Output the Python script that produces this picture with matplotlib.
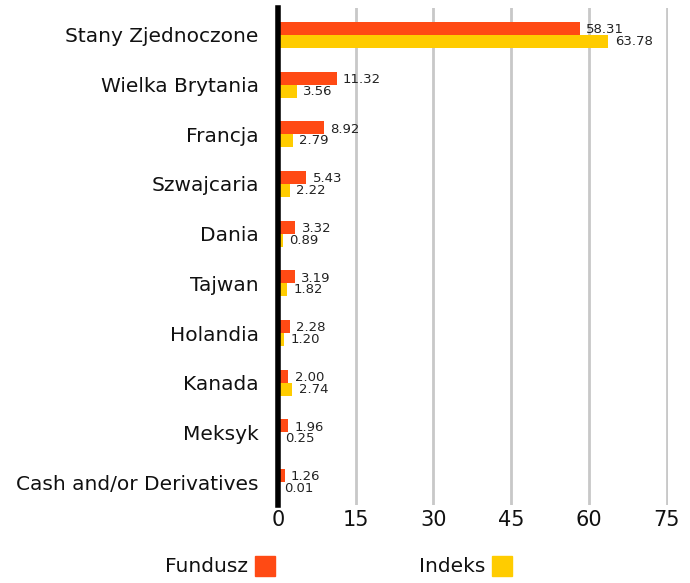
import matplotlib
matplotlib.use('Agg')
import matplotlib.pyplot as plt
from matplotlib.patches import Rectangle
import numpy as np

plt.rcParams['font.family'] = ['DejaVu Sans']

countries = ['Stany Zjednoczone', 'Wielka Brytania', 'Francja', 'Szwajcaria', 'Dania',
             'Tajwan', 'Holandia', 'Kanada', 'Meksyk', 'Cash and/or Derivatives']
fund = [58.31, 11.32, 8.92, 5.43, 3.32, 3.19, 2.28, 2.00, 1.96, 1.26]
index = [63.78, 3.56, 2.79, 2.22, 0.89, 1.82, 1.20, 2.74, 0.25, 0.01]
ticks = [0, 15, 30, 45, 60, 75]

orange = '#ff4a14'
yellow = '#ffcc00'

fig = plt.figure(figsize=(6.9, 5.83), dpi=100)
ax = fig.add_axes([0.403, 0.134, 0.5646, 0.852])

y = np.arange(len(countries))
h = 0.26
ax.barh(y - h/2, fund, height=h, color=orange, zorder=3)
ax.barh(y + h/2, index, height=h, color=yellow, zorder=3)

# value labels
for i in range(len(countries)):
    ax.annotate('%.2f' % fund[i], (fund[i], y[i] - h/2), xytext=(4.5, -1), textcoords='offset points',
                va='center', ha='left', fontsize=9.5, color='#222222')
    ax.annotate('%.2f' % index[i], (index[i], y[i] + h/2), xytext=(4.5, 0), textcoords='offset points',
                va='center', ha='left', fontsize=9.5, color='#222222')

ax.set_ylim(len(countries) - 0.54, -0.54)
ax.set_xlim(0, 75.2)
ax.set_yticks(y)
ax.set_yticklabels(countries, fontsize=14.5, color='#111111')
ax.set_xticks(ticks)
ax.set_xticklabels([str(t) for t in ticks], fontsize=15, color='#111111')
ax.tick_params(length=0, pad=4)
ax.tick_params(axis='y', pad=14)

for t in ticks[1:]:
    ax.axvline(t, color='#c8c8c8', linewidth=2, zorder=1)
for s in ['top', 'right', 'bottom']:
    ax.spines[s].set_visible(False)
ax.spines['left'].set_linewidth(4)
ax.spines['left'].set_color('black')
ax.spines['left'].set_zorder(4)

# legend
fig.text(248/690, 1 - 567/583, 'Fundusz', ha='right', va='center', fontsize=14.5, color='#111111')
fig.patches.append(Rectangle((255/690, 1 - 576/583), 20/690, 20/583, color=orange, transform=fig.transFigure))
fig.text(485/690, 1 - 567/583, 'Indeks', ha='right', va='center', fontsize=14.5, color='#111111')
fig.patches.append(Rectangle((492/690, 1 - 576/583), 20/690, 20/583, color=yellow, transform=fig.transFigure))

plt.savefig('out.png', dpi=100)
